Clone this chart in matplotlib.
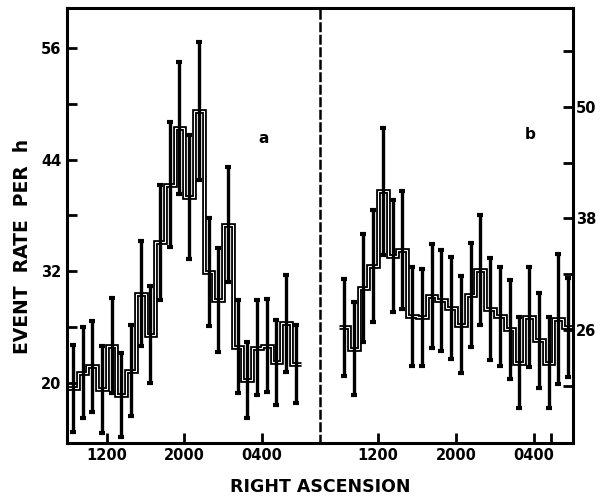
import numpy as np
import matplotlib
matplotlib.use("Agg")
import matplotlib.pyplot as plt

# hourly bins, right ascension in hours (values past 24 wrap to next day)
bin_edges = np.arange(8, 33)
bin_centres = bin_edges[:-1] + 0.5

# panel a: event rate per hour and its error
rate_a = [19.4, 21.1, 21.8, 19.3, 24.0, 18.7, 21.3, 29.6, 25.2, 35.1, 41.3, 47.4,
          40.0, 49.2, 31.9, 28.9, 37.0, 23.9, 20.3, 23.8, 24.0, 22.2, 26.4, 22.0]
err_a = [4.7, 4.9, 4.9, 4.7, 5.1, 4.5, 4.9, 5.6, 5.2, 6.2, 6.7, 7.1,
         6.7, 7.4, 5.8, 5.6, 6.2, 5.0, 4.1, 5.1, 5.0, 4.6, 5.2, 4.2]

# panel b
rate_b = [26.3, 24.0, 30.5, 32.9, 40.9, 34.0, 34.6, 27.5, 27.4, 29.7, 29.2, 28.4,
          26.6, 29.8, 32.5, 28.3, 27.5, 26.1, 22.5, 27.4, 24.9, 22.5, 27.2, 26.3]
err_b = [5.2, 5.0, 5.8, 6.0, 6.8, 6.0, 6.3, 5.3, 5.2, 5.6, 5.4, 5.5,
         5.2, 5.6, 5.9, 5.5, 5.3, 5.3, 4.9, 5.4, 5.1, 4.9, 7.0, 5.3]

ra_ticks = [12, 20, 28]
ra_labels = ["1200", "2000", "0400"]
rate_ticks = np.arange(20, 57, 6)
left_labels = ["20", "", "32", "", "44", "", "56"]
right_labels = ["", "26", "", "38", "", "50", ""]

plt.rcParams['font.family'] = 'DejaVu Sans'
plt.rcParams['font.weight'] = 'bold'

fig = plt.figure(figsize=(6.02, 5.01), dpi=100)
ax_a = fig.add_axes([0.111, 0.116, 0.420, 0.868])
ax_b = fig.add_axes([0.5316, 0.116, 0.420, 0.868])


def draw_panel(ax, rate, err):
    # open-outline histogram: thick black stroke with a thin white core
    ax.stairs(rate, bin_edges, color='black', lw=3.4, baseline=None)
    ax.stairs(rate, bin_edges, color='white', lw=0.8, baseline=None)
    ax.errorbar(bin_centres, rate, yerr=err, fmt='none', ecolor='black',
                elinewidth=2.4, capsize=2, capthick=3)
    for s in ax.spines.values():
        s.set_linewidth(2.2)
    ax.tick_params(direction='in', length=7, width=2, labelsize=10.5, pad=4)
    ax.set_xticks(ra_ticks)
    ax.set_xticklabels(ra_labels)


draw_panel(ax_a, rate_a, err_a)
ax_a.set_xlim(7.88, 33.96)
ax_a.set_ylim(13.55, 60.3)
ax_a.set_yticks(rate_ticks)
ax_a.set_yticklabels(left_labels)
ax_a.spines['right'].set_visible(False)
ax_a.text(0.78, 0.70, "a", transform=ax_a.transAxes, fontsize=11,
          ha='center', va='center')

draw_panel(ax_b, rate_b, err_b)
ax_b.set_xlim(6.05, 32.0)
ax_b.set_ylim(13.9, 60.6)
ax_b.set_xticks(ra_ticks + [29.8])
ax_b.set_xticklabels(ra_labels + [""])
ax_b.set_yticks(rate_ticks)
ax_b.set_yticklabels(right_labels)
ax_b.yaxis.tick_right()
ax_b.tick_params(axis='y', direction='in', pad=2)
ax_b.spines['left'].set_linestyle((0, (3, 2)))
ax_b.spines['left'].set_linewidth(1.8)
ax_b.text(0.83, 0.71, "b", transform=ax_b.transAxes, fontsize=11,
          ha='center', va='center')

fig.text(0.037, 0.509, "EVENT  RATE  PER  h", rotation=90, fontsize=13.5,
         ha='center', va='center')
fig.text(0.532, 0.028, "RIGHT ASCENSION", fontsize=12.5, ha='center', va='center')

fig.savefig("out.png", dpi=100)
